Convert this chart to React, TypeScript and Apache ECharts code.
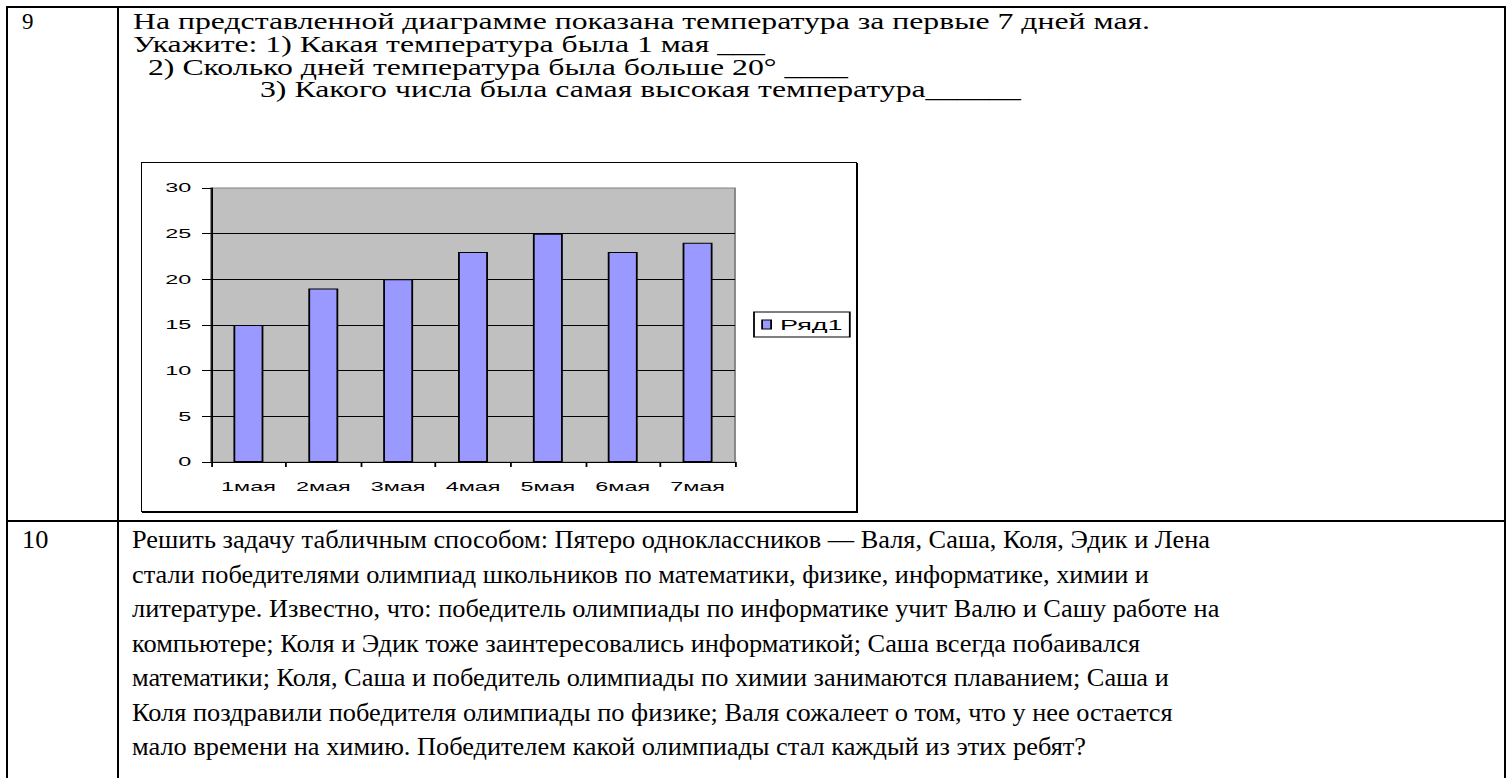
import React, { useEffect, useRef } from "react";
import * as echarts from "echarts";

// ---------- chart data ----------
const categories = ["1мая", "2мая", "3мая", "4мая", "5мая", "6мая", "7мая"];
const temperatures = [15, 19, 20, 23, 25, 23, 24];
const seriesName = "Ряд1";
const yMin = 0;
const yMax = 30;
const yStep = 5;

// ---------- document text ----------
const task9Number = "9";
const task9Lines = [
  "На представленной диаграмме показана температура за первые 7 дней мая.",
  "Укажите: 1) Какая температура была 1 мая ___",
  "2) Сколько дней температура была больше 20° ____",
  "3) Какого числа была самая высокая температура______",
];
const task10Number = "10";
const task10Lines = [
  "Решить задачу табличным способом: Пятеро одноклассников — Валя, Саша, Коля, Эдик и Лена",
  "стали победителями олимпиад школьников по математики, физике, информатике, химии и",
  "литературе. Известно, что: победитель олимпиады по информатике учит Валю и Сашу работе на",
  "компьютере; Коля и Эдик тоже заинтересовались информатикой; Саша всегда побаивался",
  "математики; Коля, Саша и победитель олимпиады по химии занимаются плаванием; Саша и",
  "Коля поздравили победителя олимпиады по физике; Валя сожалеет о том, что у нее остается",
  "мало времени на химию. Победителем какой олимпиады стал каждый из этих ребят?",
];

// ---------- layout ----------
const SERIF = '"Liberation Serif", "Times New Roman", "DejaVu Serif", serif';
const SANS = '"Liberation Sans", Arial, sans-serif';
const FS9 = 23;
const FS10 = 26;
const task9Left = [133, 133, 148, 260];
const task9Base = [29, 52, 75, 97];
const task9Span = [133, 1150];
const task10Left = 132;
const task10Base = [549, 583.5, 618, 652.5, 687, 721.5, 756];
const task10Span = [132, 1210];

const BOX = { left: 141, top: 162, width: 716, height: 350 };
const STRETCH = 1.8;

function measure(text: string, font: string): number {
  const c = document.createElement("canvas").getContext("2d");
  if (!c) return text.length * 10;
  c.font = font;
  return c.measureText(text).width;
}

function TextLine(props: { text: string; left: number; baseline: number; fs: number; scale: number }) {
  const { text, left, baseline, fs, scale } = props;
  return (
    <div
      style={{
        position: "absolute",
        left,
        top: baseline - 0.8375 * fs,
        fontFamily: SERIF,
        fontSize: fs,
        lineHeight: `${fs}px`,
        whiteSpace: "pre",
        color: "#000",
        transform: `scaleX(${scale})`,
        transformOrigin: "left top",
      }}
    >
      {text}
    </div>
  );
}

function Chart() {
  const ref = useRef<HTMLDivElement>(null);
  useEffect(() => {
    if (!ref.current) return;
    const chart = echarts.init(ref.current, null, { renderer: "svg" });
    const S = STRETCH;
    const option = {
      animation: false,
      backgroundColor: "transparent",
      grid: {
        left: (211 - BOX.left) / S,
        top: 188 - BOX.top,
        width: (735 - 211) / S,
        height: 462 - 188,
        show: true,
        backgroundColor: "#c0c0c0",
        borderColor: "#808080",
        borderWidth: 1,
      },
      legend: {
        data: [seriesName],
        left: (754 - BOX.left) / S,
        top: 312 - BOX.top,
        orient: "vertical",
        icon: "rect",
        itemWidth: 5,
        itemHeight: 9,
        padding: [5, 4, 5, 4],
        backgroundColor: "#fff",
        borderColor: "#000",
        borderWidth: 1,
        textStyle: { fontFamily: SANS, fontSize: 15, color: "#000" },
        itemStyle: { borderColor: "#000", borderWidth: 1 },
      },
      xAxis: {
        type: "category",
        data: categories,
        boundaryGap: true,
        axisLine: { show: true, lineStyle: { color: "#000", width: 1 } },
        axisTick: { show: true, length: 5, lineStyle: { color: "#000" } },
        axisLabel: { color: "#000", fontFamily: SANS, fontSize: 13, margin: 18 },
        splitLine: { show: false },
      },
      yAxis: {
        type: "value",
        min: yMin,
        max: yMax,
        interval: yStep,
        axisLine: { show: true, lineStyle: { color: "#000", width: 1 } },
        axisTick: { show: true, length: 5, lineStyle: { color: "#000" } },
        axisLabel: { color: "#000", fontFamily: SANS, fontSize: 13, margin: 11 },
        splitLine: { show: true, showMaxLine: false, lineStyle: { color: "#000", width: 1 } },
      },
      series: [
        {
          name: seriesName,
          type: "bar",
          data: temperatures,
          barWidth: "40%",
          itemStyle: { color: "#9999ff", borderColor: "#000", borderWidth: 1 },
        },
      ],
    };
    chart.setOption(option as any);
    return () => chart.dispose();
  }, []);
  return (
    <div
      style={{
        position: "absolute",
        left: BOX.left,
        top: BOX.top,
        width: BOX.width / STRETCH,
        height: BOX.height,
        transform: `scaleX(${STRETCH})`,
        transformOrigin: "left top",
      }}
    >
      <div ref={ref} style={{ width: "100%", height: "100%" }} />
    </div>
  );
}

export default function App() {
  const scale9 = (task9Span[1] - task9Span[0]) / measure(task9Lines[0], `${FS9}px ${SERIF}`);
  const scale10 = (task10Span[1] - task10Span[0]) / measure(task10Lines[0], `${FS10}px ${SERIF}`);
  const line = (x1: number, y1: number, w: number, h: number, key: string) => (
    <div key={key} style={{ position: "absolute", left: x1, top: y1, width: w, height: h, background: "#000" }} />
  );
  return (
    <div
      style={{
        position: "fixed",
        left: 0,
        top: 0,
        width: 1506,
        height: 778,
        background: "#fff",
        overflow: "hidden",
      }}
    >
      {line(6, 6, 1500, 2, "top")}
      {line(6, 6, 2, 772, "left")}
      {line(117, 6, 2, 772, "col")}
      {line(1504, 6, 2, 772, "right")}
      {line(6, 520, 1500, 2, "row")}

      <TextLine text={task9Number} left={22} baseline={task9Base[0]} fs={FS9} scale={1} />
      {task9Lines.map((t, i) => (
        <TextLine key={"t9" + i} text={t} left={task9Left[i]} baseline={task9Base[i]} fs={FS9} scale={scale9} />
      ))}

      <div
        style={{
          position: "absolute",
          left: BOX.left,
          top: BOX.top,
          width: BOX.width - 2,
          height: BOX.height - 2,
          border: "1px solid #000",
          boxShadow: "1px 1px 0 #000",
          background: "#fff",
        }}
      />
      <Chart />

      <TextLine text={task10Number} left={22} baseline={task10Base[0]} fs={FS10} scale={scale10} />
      {task10Lines.map((t, i) => (
        <TextLine key={"t10" + i} text={t} left={task10Left} baseline={task10Base[i]} fs={FS10} scale={scale10} />
      ))}
    </div>
  );
}
